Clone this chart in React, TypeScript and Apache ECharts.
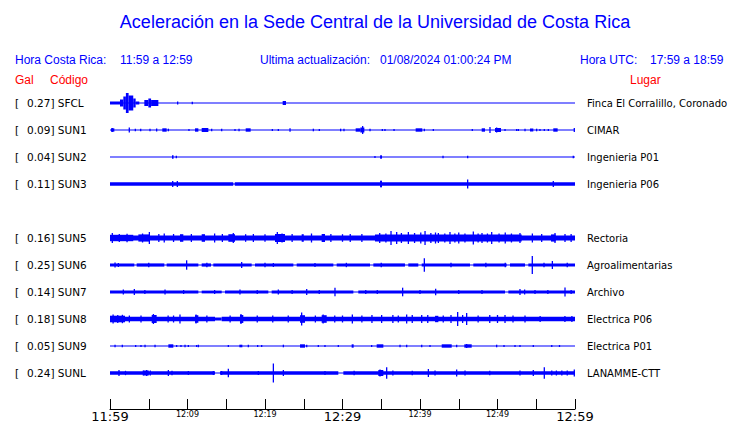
import React, { useEffect, useRef } from "react";
import * as echarts from "echarts";

// ---------- data ----------
const stations = ["SFCL", "SUN1", "SUN2", "SUN3", "SUN5", "SUN6", "SUN7", "SUN8", "SUN9", "SUNL"];
const peakGal = ["0.27", "0.09", "0.04", "0.11", "0.16", "0.25", "0.14", "0.18", "0.05", "0.24"];
const places = [
  "Finca El Corralillo, Coronado", "CIMAR", "Ingenieria P01", "Ingenieria P06", "Rectoria",
  "Agroalimentarias", "Archivo", "Electrica P06", "Electrica P01", "LANAMME-CTT",
];
const traceRows = [0, 1, 2, 3, 5, 6, 7, 8, 9, 10];
const timeLabels = ["11:59", "12:09", "12:19", "12:29", "12:39", "12:49", "12:59"];

// amplitude unit: 1/27 of the trace spacing
const AMP_PER_ROW = 27;

// bands: [startMinute, endMinute, halfAmplitude]
const sfclBands = [
  [0, 60, 0.6], [0, 1.29, 1.5], [1.29, 1.72, 3.5], [1.72, 2.05, 6.5], [2.05, 2.4, 10],
  [2.4, 3.0, 7.5], [3.0, 3.31, 4.5], [3.31, 3.78, 1.5], [4.43, 4.95, 3], [4.95, 5.3, 4.5],
  [5.3, 6.24, 3], [22.28, 22.71, 2],
];
const sfclSpikes = [[8.73, 1.5], [10.62, 1.2]];

const sun1Bands = [
  [0, 60, 0.6], [0.13, 0.56, 1.7], [6.75, 7.31, 1.7], [10.97, 11.4, 1.7], [11.83, 12.69, 2],
  [17.51, 18.15, 1.7], [31.7, 32.3, 1.7], [32.3, 32.82, 2.5], [39.44, 40.3, 1.7],
  [47.96, 48.39, 1.7], [49.68, 50.45, 2], [54.19, 54.62, 1.5], [57.2, 57.76, 1.7],
];
const sun1Spikes = [
  [0.3, 2], [2.49, 2.5], [3.27, 1.2], [3.96, 1.2], [5.16, 1.2], [6.02, 1.5], [7.53, 1.3],
  [10.19, 1], [13.12, 1.3], [14.41, 1.3], [16.13, 1], [16.65, 1.3], [20.95, 1], [21.72, 1],
  [23.23, 1.7], [26.24, 1.3], [27.01, 1], [29.76, 1.3], [30.19, 1.3], [32.6, 4], [33.55, 1.3],
  [35.14, 1], [35.48, 1], [36.65, 1], [40.56, 1.3], [41.72, 1], [46.75, 1], [49.03, 3],
  [49.89, 2.5], [50.97, 1], [52.47, 1], [52.69, 1], [53.55, 1.3], [55.05, 1.3], [55.48, 1],
  [56.04, 1], [56.56, 1], [59.91, 2],
];

const sun2Bands = [[0, 60, 0.6], [8.0, 8.2, 1.7], [34.85, 35.1, 1.7]];
const sun2Spikes = [[8.56, 1.3], [34.19, 1], [42.97, 1.3], [46.15, 1.3], [59.78, 1.3]];

const sun3Bands = [[0, 15.9, 1.8], [15.9, 16.1, 0.8], [16.1, 60, 1.8], [34.85, 35.1, 3]];
const sun3Spikes = [[8.09, 3], [8.69, 3], [34.97, 3.5], [46.15, 4.5], [57.2, 3]];

const sun5Bands = [
  [0, 60, 2.5], [0, 3.0, 3.2], [3.66, 5.08, 3.6], [9.03, 9.46, 3.8], [11.83, 12.26, 3.8],
  [15.27, 16.13, 3.8], [21.29, 22.58, 4], [24.73, 25.0, 3.8], [27.31, 27.74, 4],
  [34.19, 42.37, 3.6], [42.37, 53.12, 3.4], [56.9, 57.5, 3.6],
];
const sun5Spikes = [
  [0.3, 5], [1.2, 4], [2.2, 4.2], [4.2, 4.5], [5.08, 6], [6.3, 4], [7.0, 4.5], [8.2, 4],
  [10.5, 4], [13.5, 4.5], [14.5, 4], [15.91, 5], [17.5, 3.8], [18.5, 4], [20.0, 3.8],
  [21.59, 6], [22.2, 4.5], [23.5, 4], [26.0, 4.5], [28.5, 4], [30.0, 3.8], [31.0, 4],
  [32.5, 4], [34.8, 5], [35.6, 4.5], [36.26, 7], [36.99, 6], [37.6, 5], [38.5, 6], [39.3, 5],
  [40.1, 5.5], [40.65, 7], [41.4, 5], [42.0, 5.5], [42.37, 5], [43.2, 4.5], [43.87, 6],
  [44.5, 4.5], [45.0, 5.5], [45.8, 4.5], [46.88, 6.5], [47.5, 4.5], [48.0, 5], [48.7, 4.5],
  [49.25, 6], [50.2, 4.5], [51.0, 5.5], [51.8, 4.5], [52.9, 5], [54.5, 4.5], [55.7, 4],
  [57.42, 5], [58.71, 4], [59.5, 4],
];

const sun6Bands = [
  [0, 60, 0.6], [0, 3.14, 1.6], [3.44, 7.01, 1.6], [7.31, 11.4, 1.6], [11.83, 13.03, 1.6],
  [13.33, 18.28, 1.6], [18.71, 23.66, 1.6], [24.09, 28.82, 1.6], [29.25, 33.55, 1.6],
  [33.98, 38.06, 1.6], [38.49, 39.78, 1.6], [40.22, 46.45, 1.6], [46.88, 51.18, 1.6],
  [51.61, 53.55, 1.6], [53.98, 60, 1.6],
];
const sun6Spikes = [
  [0.65, 2.5], [1.08, 2], [5.0, 2.3], [9.89, 4.7], [12.5, 2.3], [16.99, 3], [20.0, 2.2],
  [21.08, 2], [26.45, 2], [30.5, 2.2], [35.0, 2.3], [40.56, 6.7], [44.0, 2.3], [48.5, 2.3],
  [51.0, 2.3], [54.49, 9], [56.0, 2.3], [57.08, 4], [59.0, 2.3],
];

const sun7Bands = [
  [0, 60, 0.6], [0, 11.4, 1.4], [11.83, 14.41, 1.4], [14.84, 20.43, 1.4], [20.86, 31.4, 1.4],
  [32.04, 50.97, 1.4], [51.4, 60, 1.4],
];
const sun7Spikes = [
  [1.72, 2.5], [3.14, 3], [4.5, 2], [7.1, 2.5], [9.5, 2], [13.5, 2], [16.77, 2.5], [19.0, 2],
  [21.72, 2.5], [23.5, 2], [25.38, 3], [27.0, 2], [29.03, 4.3], [33.0, 2], [34.49, 2],
  [37.76, 4.3], [40.0, 2], [42.02, 3.3], [45.0, 2], [48.0, 2], [52.9, 3], [53.5, 2.5],
  [54.84, 2], [56.5, 2], [58.71, 4.5], [59.5, 2],
];

const sun8Bands = [
  [0, 13.55, 2.3], [13.55, 14.41, 1.5], [14.41, 60, 2.3], [0, 1.94, 3.3], [5.38, 6.02, 4],
  [10.97, 11.4, 3.8], [16.77, 17.2, 4], [24.52, 25.16, 3.8], [27.31, 27.96, 3.8],
  [41.94, 42.37, 3.2],
];
const sun8Spikes = [
  [0.4, 4.5], [1.0, 4], [1.6, 4.2], [2.5, 3.5], [4.0, 3.5], [5.6, 5], [7.5, 3.5], [8.2, 3.5],
  [9.03, 4.5], [11.1, 4.5], [12.5, 3.5], [15.5, 3.5], [16.9, 5], [19.0, 3.5], [21.0, 3.5],
  [23.0, 3.5], [24.73, 6.5], [26.5, 3.5], [27.5, 4.5], [29.0, 3.5], [30.0, 3.5], [31.27, 4.5],
  [32.5, 3.5], [33.8, 4], [35.05, 4], [36.5, 4], [37.2, 3.5], [38.28, 4.5], [39.0, 4],
  [40.22, 4], [41.0, 4], [43.0, 3.5], [44.0, 4], [44.86, 7], [45.5, 4], [46.02, 6], [47.5, 3.5],
  [49.0, 4], [50.0, 4], [50.97, 4], [52.0, 3.5], [53.55, 3.5], [55.5, 3], [58.7, 3], [59.6, 3],
];

const sun9Bands = [
  [0, 60, 0.6], [7.53, 8.17, 1.7], [16.69, 17.08, 1.3], [24.52, 25.16, 1.7], [31.18, 31.44, 1.7],
  [34.41, 35.27, 1.7], [42.8, 44.09, 1.7], [45.72, 46.67, 1.7],
];
const sun9Spikes = [
  [0.65, 1.3], [1.59, 1.3], [3.31, 1], [4.0, 1], [4.52, 1.3], [5.81, 1.3], [8.6, 1], [9.16, 1],
  [9.68, 1.3], [10.11, 1], [11.18, 1], [11.4, 1.3], [15.27, 1], [17.85, 1.3], [19.05, 1],
  [19.57, 1], [22.37, 1.3], [25.38, 1.3], [26.88, 1], [27.74, 1], [29.46, 1], [33.76, 1],
  [37.42, 1.3], [38.28, 1.3], [40.22, 1.3], [41.29, 1], [44.73, 1.3], [46.02, 2], [49.89, 1.3],
  [50.84, 1], [52.26, 1], [52.9, 1], [54.62, 1], [57.0, 1], [58.0, 1],
];

const sunlBands = [
  [0, 60, 0.6], [0, 13.55, 1.7], [14.19, 29.46, 1.7], [30.11, 60, 1.7], [4.3, 5.0, 2.5],
  [34.62, 35.27, 3],
];
const sunlSpikes = [
  [1.16, 3], [2.0, 2.2], [4.3, 2.5], [4.73, 3], [5.2, 2.5], [7.53, 3], [8.0, 2.2], [10.11, 2],
  [13.33, 2], [14.41, 2], [15.27, 4.3], [19.14, 2], [21.08, 9.5], [22.37, 3], [27.74, 2],
  [31.5, 2.2], [34.84, 3.5], [35.7, 5.7], [36.5, 2.5], [39.0, 2.2], [41.08, 4], [41.94, 2.5],
  [44.73, 3.5], [45.81, 2.5], [49.0, 2.2], [52.9, 2.5], [54.62, 3], [56.04, 5.7], [57.0, 2.5],
  [57.6, 2.5], [58.3, 2.5], [59.0, 2.5], [59.91, 3.5],
];

const allBands = [sfclBands, sun1Bands, sun2Bands, sun3Bands, sun5Bands, sun6Bands, sun7Bands, sun8Bands, sun9Bands, sunlBands];
const allSpikes = [sfclSpikes, sun1Spikes, sun2Spikes, sun3Spikes, sun5Spikes, sun6Spikes, sun7Spikes, sun8Spikes, sun9Spikes, sunlSpikes];

// ---------- styles ----------
const BLUE = "#0000ff";
const RED = "#ff0000";
const SANS = '"Liberation Sans", Arial, sans-serif';
const DEJAVU = '"DejaVu Sans", sans-serif';

export default function App() {
  const ref = useRef<HTMLDivElement>(null);

  useEffect(() => {
    if (!ref.current) return;
    const chart = echarts.init(ref.current, undefined, { renderer: "svg" });

    const series = stations.map((name, i) => {
      const row = traceRows[i];
      const data: number[][] = [];
      allBands[i].forEach((b) => data.push([b[0], b[1], row, b[2]]));
      allSpikes[i].forEach((s) => data.push([s[0], s[0], row, s[1]]));
      return {
        type: "custom",
        name,
        data,
        encode: { x: [0, 1], y: 2 },
        clip: false,
        silent: true,
        renderItem: (params: any, api: any) => {
          const t0 = api.value(0);
          const t1 = api.value(1);
          const r = api.value(2);
          const amp = api.value(3);
          const a = api.coord([t0, r]);
          const b = api.coord([t1, r]);
          const h = Math.abs(api.size([0, amp / AMP_PER_ROW])[1]);
          let x = a[0];
          let w = b[0] - a[0];
          if (w < 1.3) {
            x = (a[0] + b[0]) / 2 - 0.65;
            w = 1.3;
          }
          return {
            type: "rect",
            shape: { x, y: a[1] - h, width: w, height: 2 * h },
            style: { fill: BLUE },
          };
        },
      };
    });

    const headerText = (text: string, x: number, y: number, fill: string, align = "left") => ({
      type: "text",
      x,
      y,
      silent: true,
      style: { text, fill, font: `12px ${SANS}`, align, verticalAlign: "middle" },
    });

    chart.setOption({
      animation: false,
      backgroundColor: "#ffffff",
      grid: { left: 110, right: 165, top: 76, bottom: 14 },
      xAxis: {
        type: "value",
        min: 0,
        max: 60,
        interval: 5,
        splitLine: { show: false },
        axisLine: { show: true, onZero: false, lineStyle: { color: "#000", width: 1 } },
        axisTick: { show: true, inside: true, length: 10, lineStyle: { color: "#000", width: 1 } },
        axisLabel: {
          show: true,
          showMinLabel: true,
          showMaxLabel: true,
          margin: 1,
          formatter: (v: number) => {
            if (v % 10 !== 0) return "";
            const lbl = timeLabels[v / 10];
            return v % 30 === 0 ? `{big|${lbl}}` : `{small|${lbl}}`;
          },
          rich: {
            big: { fontSize: 13, fontFamily: DEJAVU, color: "#000" },
            small: { fontSize: 8, fontFamily: DEJAVU, color: "#000" },
          },
        },
      },
      yAxis: [
        {
          type: "value",
          inverse: true,
          min: -1,
          max: 11 + 1 / 3,
          interval: 1,
          axisLine: { show: false },
          axisTick: { show: false },
          splitLine: { show: false },
          axisLabel: {
            show: true,
            align: "left",
            margin: 95,
            formatter: (v: number) => {
              const i = traceRows.indexOf(v);
              if (i < 0) return "";
              return `{br|[}{v|${peakGal[i]}] ${stations[i]}}`;
            },
            rich: {
              br: { width: 12, fontSize: 10.5, fontFamily: DEJAVU, color: "#000" },
              v: { fontSize: 10.5, fontFamily: DEJAVU, color: "#000" },
            },
          },
        },
        {
          type: "value",
          position: "right",
          inverse: true,
          min: -1,
          max: 11 + 1 / 3,
          interval: 1,
          axisLine: { show: false },
          axisTick: { show: false },
          splitLine: { show: false },
          axisLabel: {
            show: true,
            margin: 12,
            fontSize: 10,
            fontFamily: DEJAVU,
            color: "#000",
            formatter: (v: number) => {
              const i = traceRows.indexOf(v);
              return i < 0 ? "" : places[i];
            },
          },
        },
      ],
      graphic: [
        {
          type: "text",
          x: 375,
          y: 22,
          silent: true,
          style: {
            text: "Aceleración en la Sede Central de la Universidad de Costa Rica",
            fill: BLUE,
            font: `18px ${SANS}`,
            align: "center",
            verticalAlign: "middle",
          },
        },
        headerText("Hora Costa Rica:", 15, 60, BLUE),
        headerText("11:59 a 12:59", 120, 60, BLUE),
        headerText("Ultima actualización:", 260, 60, BLUE),
        headerText("01/08/2024 01:00:24 PM", 380, 60, BLUE),
        headerText("Hora UTC:", 580, 60, BLUE),
        headerText("17:59 a 18:59", 650, 60, BLUE),
        headerText("Gal", 15, 80, RED),
        headerText("Código", 50, 80, RED),
        headerText("Lugar", 630, 80, RED),
      ],
      series,
    });

    return () => chart.dispose();
  }, []);

  return (
    <div
      ref={ref}
      style={{ position: "absolute", left: 0, top: 0, width: 740, height: 423, background: "#fff" }}
    />
  );
}
